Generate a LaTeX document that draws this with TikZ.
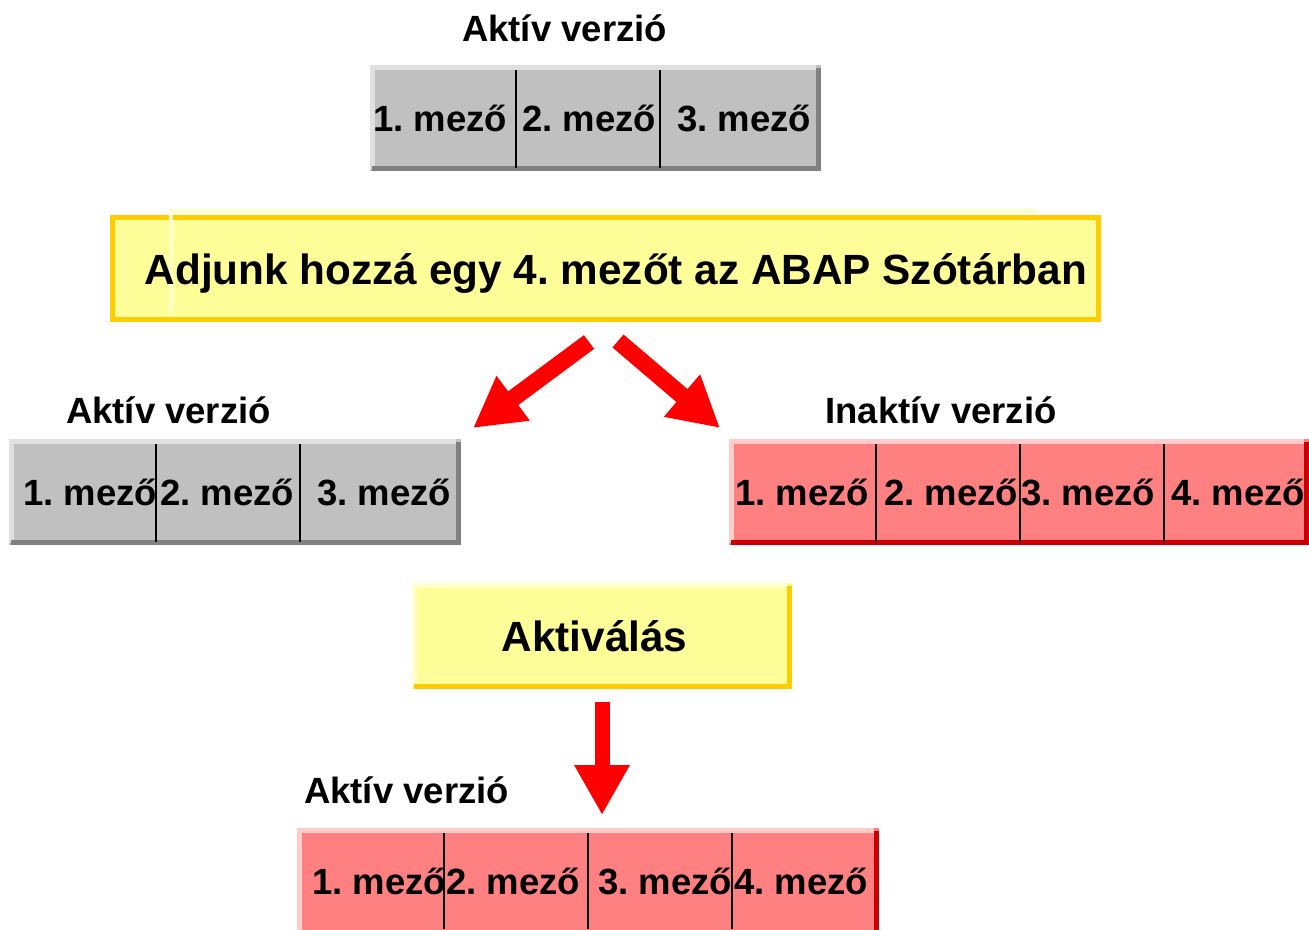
\documentclass[tikz,border=0pt]{standalone}
\usepackage{fontspec}
\setmainfont{Liberation Sans}
\usetikzlibrary{arrows.meta}
\frenchspacing
\definecolor{gbg}{HTML}{C0C0C0}
\definecolor{glt}{HTML}{E0E0E0}
\definecolor{gdk}{HTML}{808080}
\definecolor{rbg}{HTML}{FF8080}
\definecolor{rlt}{HTML}{FFCCCC}
\definecolor{rdk}{HTML}{CC0000}
\definecolor{ybg}{HTML}{FFFF99}
\definecolor{ylt}{HTML}{FFFFCC}
\definecolor{ydk}{HTML}{FFCC00}
\definecolor{arrowred}{HTML}{FF0000}
% #1 name, #2 x1, #3 y1, #4 x2, #5 y2, #6 bg, #7 light, #8 dark
\newcommand\bevbox[8]{%
  \node[inner sep=0pt, outer sep=0pt, fill=#6, minimum width={#4pt-#2pt}, minimum height={#5pt-#3pt}] (#1) at ({(#2+#4)/2},{(#3+#5)/2}) {};
  \fill[#7] (#2,#3) rectangle (#4-5,#3+5);
  \fill[#7] (#2,#3) rectangle (#2+5,#5-2);
  \fill[#8] (#2+2,#5-5) rectangle (#4,#5);
  \fill[#8] (#4-5,#3+3) rectangle (#4,#5);
}
\tikzset{
  cell/.style={anchor=base, inner sep=0pt, font=\fontsize{36.5}{40}\selectfont\bfseries},
  heading/.style={anchor=base, inner sep=0pt, font=\fontsize{36.5}{40}\selectfont\bfseries},
  bigtext/.style={anchor=base, inner sep=0pt, font=\fontsize{42.3}{46}\selectfont\bfseries},
  divider/.style={black, line width=2pt},
  bigarrow/.style={arrowred, line width=17pt, line cap=butt, -{Triangle[length=50pt,width=52pt]}},
}
\begin{document}
\begin{tikzpicture}[x=1pt,y=-1pt]
\useasboundingbox (0,0) rectangle (1309,929);
\clip (0,0) rectangle (1309,929);

% ---- top active version
\node[heading] (h1) at (564.5,41) {Aktív verzió};
\bevbox{b1}{370}{65}{821}{171}{gbg}{glt}{gdk}
\draw[divider] (516,70) -- (516,168);
\draw[divider] (660,70) -- (660,168);
\node[cell] (b1c1) at (440,131) {1. mező};
\node[cell] (b1c2) at (589,131) {2. mező};
\node[cell] (b1c3) at (744,131) {3. mező};

% ---- main yellow box
\node[draw=ydk, line width=5pt, fill=ybg, inner sep=0pt, minimum width=986pt, minimum height=102pt] (main) at (605.5,268.5) {};
\draw[ylt, line width=4pt] (171,313) -- (171,211) -- (1037,211);
\node[bigtext] (maintext) at (616,284) {Adjunk hozzá egy 4. mezőt az ABAP Szótárban};

% ---- arrows
\coordinate (a1s) at (589,342);
\coordinate (a1e) at (473,428);
\coordinate (a2s) at (618,341);
\coordinate (a2e) at (720,428);
\draw[bigarrow] (a1s) -- (a1e);
\draw[bigarrow] (a2s) -- (a2e);

% ---- left active version
\node[heading] (h2) at (168.5,423) {Aktív verzió};
\bevbox{b2}{9}{439}{461}{545}{gbg}{glt}{gdk}
\draw[divider] (156,444) -- (156,542);
\draw[divider] (300,444) -- (300,542);
\node[cell] (b2c1) at (90,505) {1. mező};
\node[cell] (b2c2) at (227,505) {2. mező};
\node[cell] (b2c3) at (384,505) {3. mező};

% ---- right inactive version
\node[heading] (h3) at (941,423) {Inaktív verzió};
\bevbox{b3}{729}{439}{1309}{545}{rbg}{rlt}{rdk}
\draw[divider] (876,444) -- (876,542);
\draw[divider] (1020,444) -- (1020,542);
\draw[divider] (1164,444) -- (1164,542);
\node[cell] (b3c1) at (802,505) {1. mező};
\node[cell] (b3c2) at (951,505) {2. mező};
\node[cell] (b3c3) at (1088,505) {3. mező};
\node[cell] (b3c4) at (1238,505) {4. mező};

% ---- activation box
\bevbox{act}{412}{583}{792}{689}{ybg}{ylt}{ydk}
\node[bigtext] (acttext) at (594.5,651) {Aktiválás};

% ---- down arrow
\coordinate (a3s) at (602,702);
\coordinate (a3e) at (602,815);
\draw[bigarrow, line width=15pt] (a3s) -- (a3e);

% ---- bottom active version
\node[heading] (h4) at (406.5,803) {Aktív verzió};
\bevbox{b4}{297}{828}{879}{940}{rbg}{rlt}{rdk}
\draw[divider] (444,833) -- (444,929);
\draw[divider] (588,833) -- (588,929);
\draw[divider] (732,833) -- (732,929);
\node[cell] (b4c1) at (379,894) {1. mező};
\node[cell] (b4c2) at (513,894) {2. mező};
\node[cell] (b4c3) at (665,894) {3. mező};
\node[cell] (b4c4) at (801,894) {4. mező};
\end{tikzpicture}
\end{document}
